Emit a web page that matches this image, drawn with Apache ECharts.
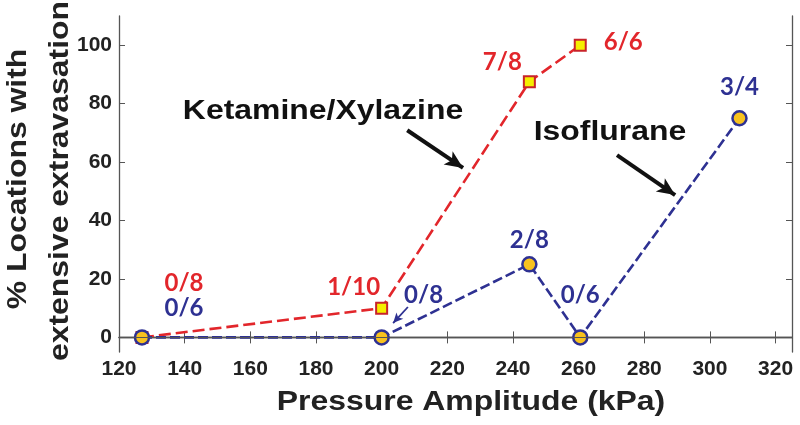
<!DOCTYPE html>
<html>
<head>
<meta charset="utf-8">
<script src="https://cdn.jsdelivr.net/npm/echarts@6/dist/echarts.min.js"></script>
<style>html,body{margin:0;padding:0;background:#fff}#c{width:800px;height:425px}</style>
</head>
<body>
<div id="c"></div>
<script>
// ---- data ----
var ketX = [127, 200, 245, 260.5];
var ketY = [0, 10, 87.5, 100];
var ketLabels = ['0/8', '1/10', '7/8', '6/6'];
var isoX = [127, 200, 245, 260.5, 309];
var isoY = [0, 0, 25, 0, 75];
var isoLabels = ['0/6', '0/8', '2/8', '0/6', '3/4'];
var xTicks = [120, 140, 160, 180, 200, 220, 240, 260, 280, 300, 320];
var yTicks = [0, 20, 40, 60, 80, 100];
// annotation arrows in data coordinates [from, to]
var ketArrow = [[207.8, 70.9], [224.8, 58]];
var isoArrow = [[271.7, 62.4], [289.4, 48.7]];
var iso08Arrow = [[208, 10.4], [203.5, 4.9]];

// ---- layout (label offsets, px) ----
var ketOffsets = [[42, -54], [-28, -21], [-27, -19], [43, -3]];
var isoOffsets = [[42, -29], [42, -42], [0, -24], [0, -42], [0, -31]];

var RED = '#e2262b', BLUE = '#2e3192';
var tickFont = {fontFamily: 'Liberation Sans', fontWeight: 'bold', fontSize: 21, color: '#222'};
var SX = 1.14;

function pts(xs, ys, labels, offs, color) {
  return xs.map(function (x, i) {
    return {
      value: [x, ys[i]],
      label: {show: true, formatter: labels[i], offset: offs[i], position: 'inside',
        color: color, fontFamily: 'Lato', fontWeight: 'bold', fontSize: 24}
    };
  });
}
function arrowLine(a, color, width, size) {
  return {
    silent: true, symbol: ['none', 'arrow'], symbolSize: size,
    lineStyle: {color: color, width: width, type: 'solid'}, label: {show: false},
    data: [[{coord: a[0]}, {coord: a[1]}]]
  };
}
function txt(s, x, y, size, rot, color) {
  return {type: 'text', x: x, y: y, rotation: rot, scaleX: SX,
    style: {text: s, fill: color, font: 'bold ' + size + 'px "Liberation Sans"', align: 'center', verticalAlign: 'middle'}};
}

var chart = echarts.init(document.getElementById('c'));
var axisLine = {show: true, lineStyle: {color: '#555', width: 1.3}};
var tick = {show: true, inside: true, length: 6, lineStyle: {color: '#555'}};
chart.setOption({
  animation: false,
  grid: {left: 119, right: 8, top: 16, bottom: 73},
  xAxis: [{
    type: 'value', min: 120, max: 325, position: 'bottom',
    axisLine: axisLine,
    axisTick: Object.assign({customValues: xTicks}, tick),
    axisLabel: Object.assign({customValues: xTicks, margin: 7}, tickFont),
    splitLine: {show: false}
  }, {
    type: 'value', min: 120, max: 325, position: 'top',
    axisLine: axisLine,
    axisTick: Object.assign({customValues: xTicks}, tick),
    axisLabel: {show: false}, splitLine: {show: false}
  }],
  yAxis: [{
    type: 'value', min: -5, max: 110, position: 'left',
    axisLine: axisLine,
    axisTick: Object.assign({customValues: yTicks}, tick),
    axisLabel: Object.assign({customValues: yTicks, margin: 7}, tickFont),
    splitLine: {show: false}
  }, {
    type: 'value', min: -5, max: 110, position: 'right',
    axisLine: axisLine,
    axisTick: Object.assign({customValues: yTicks}, tick),
    axisLabel: {show: false}, splitLine: {show: false}
  }],
  graphic: [
    txt('% Locations with', 18, 179, 28, Math.PI / 2, '#222'),
    txt('extensive extravasation', 60, 181, 28, Math.PI / 2, '#222'),
    txt('Pressure Amplitude (kPa)', 471, 402, 28, 0, '#222'),
    txt('Ketamine/Xylazine', 323, 111, 28, 0, '#111'),
    txt('Isoflurane', 610, 132, 28, 0, '#111')
  ],
  series: [{
    name: 'Ketamine/Xylazine', type: 'line', z: 3,
    data: pts(ketX, ketY, ketLabels, ketOffsets, RED),
    symbol: 'rect', symbolSize: 11,
    lineStyle: {color: RED, width: 2.6, type: [12, 5]},
    itemStyle: {color: '#f5ee00', borderColor: '#c8232a', borderWidth: 2},
    markLine: {
      silent: true, symbol: 'none', label: {show: false},
      lineStyle: {color: '#555', width: 1, type: 'solid'},
      data: [{yAxis: 0}]
    }
  }, {
    name: 'Isoflurane', type: 'line', z: 4,
    data: pts(isoX, isoY, isoLabels, isoOffsets, BLUE),
    symbol: 'circle', symbolSize: 14,
    lineStyle: {color: BLUE, width: 2.6, type: [10, 4]},
    itemStyle: {color: '#f8c21e', borderColor: BLUE, borderWidth: 2.5}
  }, {
    type: 'line', data: [],
    markLine: arrowLine(ketArrow, '#111', 4, [12, 18])
  }, {
    type: 'line', data: [],
    markLine: arrowLine(isoArrow, '#111', 4, [12, 18])
  }, {
    type: 'line', data: [],
    markLine: arrowLine(iso08Arrow, BLUE, 1.8, [7, 10])
  }]
});
</script>
</body>
</html>
